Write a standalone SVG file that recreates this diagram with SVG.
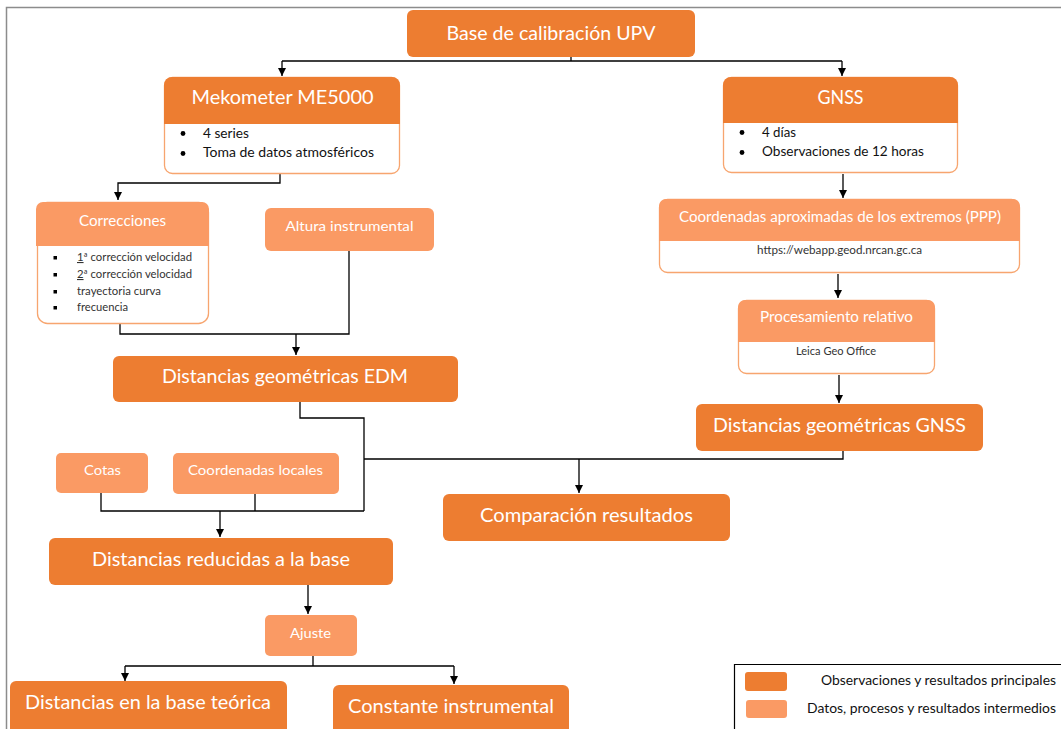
<svg xmlns="http://www.w3.org/2000/svg" width="1061" height="729" viewBox="0 0 1061 729">
<defs>
<style>
.dk{fill:#ED7D31}
.lt{fill:#FA9A64}
.ol{fill:#FFFFFF;stroke:#F7A56F;stroke-width:1.3}
.tw{fill:#FFFFFF;font-family:Lato,"Open Sans",sans-serif}
.tb{fill:#111111;font-family:Lato,"Open Sans",sans-serif}
.tg{fill:#333333;font-family:Lato,"Open Sans",sans-serif}
.c{fill:none;stroke:#000000;stroke-width:1.3}
</style>
<marker id="ah" viewBox="0 0 10 10" refX="10" refY="5" markerWidth="8" markerHeight="8" markerUnits="userSpaceOnUse" orient="auto">
<path d="M0,0 L10,5 L0,10 z" fill="#000"/>
</marker>
</defs>
<rect width="1061" height="729" fill="#FFFFFF"/>
<path d="M6.5,729 V7.5 H1061" fill="none" stroke="#8C8C8C" stroke-width="1.5"/>

<g id="connectors">
<path class="c" d="M571,57 V61 M282,61 H842"/>
<path class="c" d="M282,61 V76" marker-end="url(#ah)"/>
<path class="c" d="M842,61 V76" marker-end="url(#ah)"/>
<path class="c" d="M280,174 V183 H118 V200" marker-end="url(#ah)"/>
<path class="c" d="M843,174 V198" marker-end="url(#ah)"/>
<path class="c" d="M120,324 V334 H349 V251 M296,334 V355" marker-end="url(#ah)"/>
<path class="c" d="M838,274 V298" marker-end="url(#ah)"/>
<path class="c" d="M839,375 V403" marker-end="url(#ah)"/>
<path class="c" d="M300,402 V418 H364 V511 M364,459 H843 V451 M101,493 V511 H364 M255,494 V511"/>
<path class="c" d="M579,459 V493" marker-end="url(#ah)"/>
<path class="c" d="M220,511 V537" marker-end="url(#ah)"/>
<path class="c" d="M308,585 V614" marker-end="url(#ah)"/>
<path class="c" d="M313,656 V666 M125,666 H454"/>
<path class="c" d="M125,666 V681" marker-end="url(#ah)"/>
<path class="c" d="M454,666 V684" marker-end="url(#ah)"/>
</g>

<g id="n-base">
<rect class="dk" x="407" y="10" width="288" height="47" rx="6"/>
<text class="tw" x="551" y="40" font-size="20" text-anchor="middle" textLength="209" lengthAdjust="spacingAndGlyphs">Base de calibración UPV</text>
</g>

<g id="n-mekometer">
<rect class="ol" x="164.5" y="77.5" width="235" height="96" rx="8"/>
<path class="dk" d="M164,85 a8,8 0 0 1 8,-8 H392 a8,8 0 0 1 8,8 V124 H164 z"/>
<text class="tw" x="282.5" y="104" font-size="20" text-anchor="middle" textLength="182" lengthAdjust="spacingAndGlyphs">Mekometer ME5000</text>
<circle cx="183" cy="133.5" r="2.4" fill="#000"/>
<circle cx="183" cy="153.5" r="2.4" fill="#000"/>
<text class="tb" x="203" y="138" font-size="13" textLength="46" lengthAdjust="spacingAndGlyphs">4 series</text>
<text class="tb" x="203" y="157" font-size="13" textLength="171" lengthAdjust="spacingAndGlyphs">Toma de datos atmosféricos</text>
</g>

<g id="n-gnss">
<rect class="ol" x="723.5" y="77.5" width="234" height="95" rx="8"/>
<path class="dk" d="M723,85 a8,8 0 0 1 8,-8 H950 a8,8 0 0 1 8,8 V123 H723 z"/>
<text class="tw" x="840.5" y="104" font-size="20" text-anchor="middle" textLength="46" lengthAdjust="spacingAndGlyphs">GNSS</text>
<circle cx="742" cy="132.5" r="2.4" fill="#000"/>
<circle cx="742" cy="152.5" r="2.4" fill="#000"/>
<text class="tb" x="762" y="137" font-size="13" textLength="34" lengthAdjust="spacingAndGlyphs">4 días</text>
<text class="tb" x="762" y="156" font-size="13" textLength="162" lengthAdjust="spacingAndGlyphs">Observaciones de 12 horas</text>
</g>

<g id="n-correcciones">
<rect class="ol" x="37.5" y="202.5" width="171" height="121" rx="10"/>
<path class="lt" d="M36,209 a7,7 0 0 1 7,-7 H202 a7,7 0 0 1 7,7 V246 H36 z"/>
<text class="tw" x="122.5" y="226" font-size="15" text-anchor="middle" textLength="87" lengthAdjust="spacingAndGlyphs">Correcciones</text>
<rect x="53.5" y="256" width="3.5" height="3.5" fill="#000"/>
<rect x="53.5" y="273" width="3.5" height="3.5" fill="#000"/>
<rect x="53.5" y="290" width="3.5" height="3.5" fill="#000"/>
<rect x="53.5" y="306" width="3.5" height="3.5" fill="#000"/>
<text class="tg" x="77" y="261" font-size="11" textLength="115" lengthAdjust="spacingAndGlyphs"><tspan text-decoration="underline">1</tspan>ª corrección velocidad</text>
<text class="tg" x="77" y="278" font-size="11" textLength="115" lengthAdjust="spacingAndGlyphs"><tspan text-decoration="underline">2</tspan>ª corrección velocidad</text>
<text class="tg" x="77" y="295" font-size="11" textLength="84" lengthAdjust="spacingAndGlyphs">trayectoria curva</text>
<text class="tg" x="77" y="311" font-size="11" textLength="51" lengthAdjust="spacingAndGlyphs">frecuencia</text>
</g>

<g id="n-altura">
<rect class="lt" x="265" y="208" width="169" height="43" rx="6"/>
<text class="tw" x="349.5" y="231" font-size="14" text-anchor="middle" textLength="128" lengthAdjust="spacingAndGlyphs">Altura instrumental</text>
</g>

<g id="n-edm">
<rect class="dk" x="113" y="356" width="345" height="46" rx="6"/>
<text class="tw" x="285" y="383" font-size="20" text-anchor="middle" textLength="246" lengthAdjust="spacingAndGlyphs">Distancias geométricas EDM</text>
</g>

<g id="n-ppp">
<rect class="ol" x="659.5" y="199.5" width="360" height="73" rx="8"/>
<path class="lt" d="M659,206 a7,7 0 0 1 7,-7 H1013 a7,7 0 0 1 7,7 V241 H659 z"/>
<text class="tw" x="840" y="222" font-size="14.5" text-anchor="middle" textLength="322" lengthAdjust="spacingAndGlyphs">Coordenadas aproximadas de los extremos (PPP)</text>
<text class="tg" x="839.5" y="254" font-size="11" text-anchor="middle" textLength="165" lengthAdjust="spacingAndGlyphs">https://webapp.geod.nrcan.gc.ca</text>
</g>

<g id="n-procesamiento">
<rect class="ol" x="738.5" y="300.5" width="196" height="73" rx="8"/>
<path class="lt" d="M738,307 a7,7 0 0 1 7,-7 H928 a7,7 0 0 1 7,7 V342 H738 z"/>
<text class="tw" x="836.5" y="322" font-size="14.5" text-anchor="middle" textLength="153" lengthAdjust="spacingAndGlyphs">Procesamiento relativo</text>
<text class="tg" x="836" y="355" font-size="11" text-anchor="middle" textLength="80" lengthAdjust="spacingAndGlyphs">Leica Geo Office</text>
</g>

<g id="n-gnss-dist">
<rect class="dk" x="696" y="404" width="287" height="47" rx="6"/>
<text class="tw" x="839.5" y="432" font-size="20" text-anchor="middle" textLength="253" lengthAdjust="spacingAndGlyphs">Distancias geométricas GNSS</text>
</g>

<g id="n-cotas">
<rect class="lt" x="56" y="453" width="92" height="40" rx="5"/>
<text class="tw" x="102.5" y="475" font-size="14" text-anchor="middle" textLength="37" lengthAdjust="spacingAndGlyphs">Cotas</text>
</g>

<g id="n-coordlocales">
<rect class="lt" x="173" y="453" width="166" height="41" rx="5"/>
<text class="tw" x="255.5" y="475" font-size="14" text-anchor="middle" textLength="135" lengthAdjust="spacingAndGlyphs">Coordenadas locales</text>
</g>

<g id="n-comparacion">
<rect class="dk" x="443" y="494" width="287" height="47" rx="6"/>
<text class="tw" x="586.5" y="522" font-size="20" text-anchor="middle" textLength="213" lengthAdjust="spacingAndGlyphs">Comparación resultados</text>
</g>

<g id="n-reducidas">
<rect class="dk" x="49" y="538" width="344" height="47" rx="6"/>
<text class="tw" x="221" y="566" font-size="20" text-anchor="middle" textLength="258" lengthAdjust="spacingAndGlyphs">Distancias reducidas a la base</text>
</g>

<g id="n-ajuste">
<rect class="lt" x="265" y="615" width="92" height="41" rx="5"/>
<text class="tw" x="310.5" y="638" font-size="13" text-anchor="middle" textLength="41" lengthAdjust="spacingAndGlyphs">Ajuste</text>
</g>

<g id="n-teorica">
<rect class="dk" x="10" y="681" width="277" height="56" rx="6"/>
<text class="tw" x="148" y="709" font-size="20" text-anchor="middle" textLength="246" lengthAdjust="spacingAndGlyphs">Distancias en la base teórica</text>
</g>

<g id="n-constante">
<rect class="dk" x="333" y="685" width="236" height="52" rx="6"/>
<text class="tw" x="451" y="713" font-size="20" text-anchor="middle" textLength="206" lengthAdjust="spacingAndGlyphs">Constante instrumental</text>
</g>

<g id="legend">
<path d="M734.5,729 V664.5 H1061" fill="none" stroke="#000" stroke-width="1.2"/>
<rect class="dk" x="745" y="672" width="42" height="19" rx="3"/>
<rect class="lt" x="746" y="700" width="41" height="18" rx="3"/>
<text class="tb" x="821" y="685" font-size="13" textLength="235" lengthAdjust="spacingAndGlyphs">Observaciones y resultados principales</text>
<text class="tb" x="807" y="713" font-size="13" textLength="249" lengthAdjust="spacingAndGlyphs">Datos, procesos y resultados intermedios</text>
</g>
</svg>
